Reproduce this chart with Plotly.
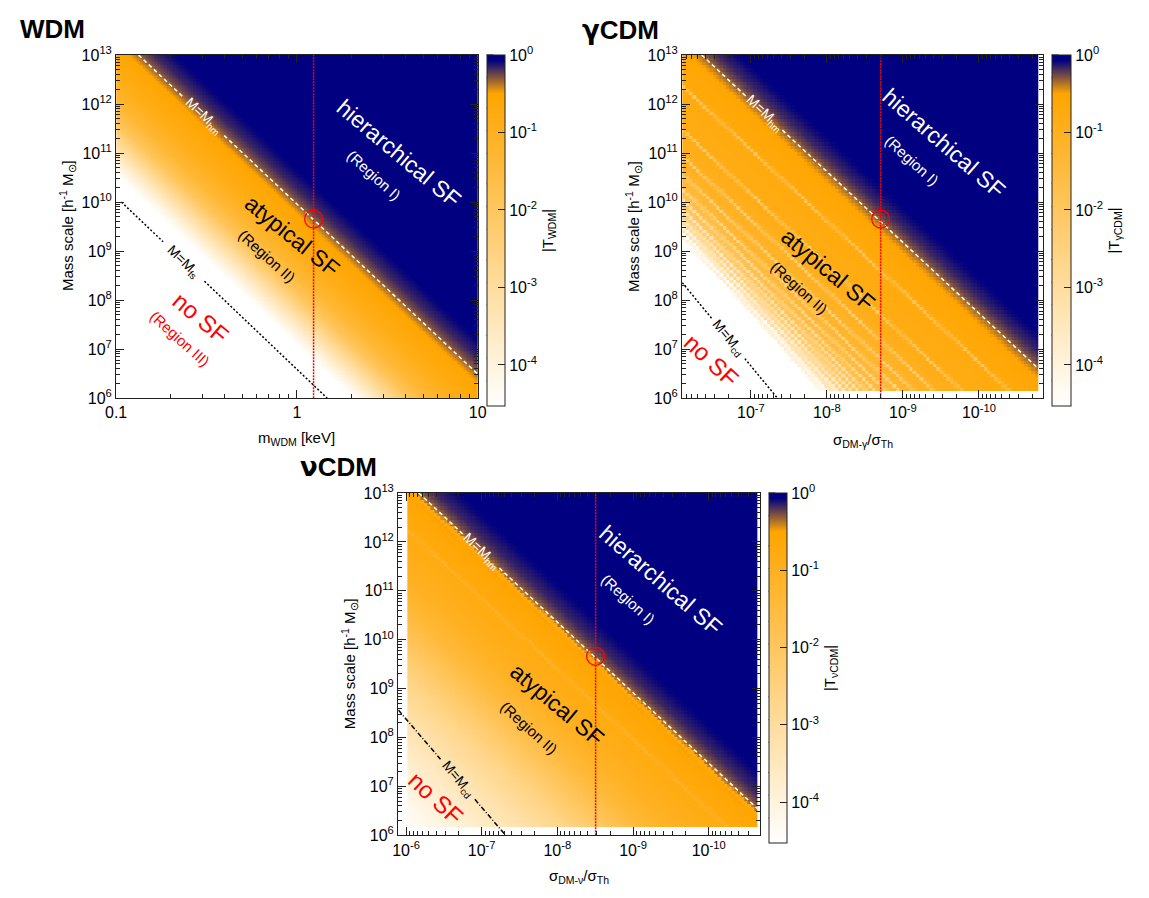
import numpy as np
import plotly.graph_objects as go

W, H = 1149, 898
FONT = "Liberation Sans, Arial, Helvetica, sans-serif"

# ---------------- shared data ----------------
mass_decades = [6, 7, 8, 9, 10, 11, 12, 13]
cbar_decades = [0, -1, -2, -3, -4]
cbar_min_log = -4.53
cbar_minor_mant = [5, 2]

# ---------------- WDM panel ----------------
wdm_x_range = [0.1, 10.0]
wdm_x_ticks = [0.1, 1, 10]
wdm_x_ticktext = ["0.1", "1", "10"]
wdm_hm_x = [0.133, 10.0]
wdm_hm_y = [1e13, 3.1e6]
wdm_hm_gap = [0.234, 0.396]
wdm_fs_x = [0.107, 1.47]
wdm_fs_y = [1e10, 1e6]
wdm_fs_gap = [0.182, 0.308]
wdm_mark_x = 1.236
wdm_mark_y = 4.5e9
wdm_prof_d = [-3.0, -1.3, -0.9, -0.6, -0.3, -0.1, 0.0, 0.2, 0.6, 1.0, 1.4, 1.8, 2.2, 2.6, 3.0]
wdm_prof_logT = [0.0, 0.0, -0.04, -0.09, -0.17, -0.26, -0.33, -0.5, -0.7, -0.95, -1.3, -1.9, -2.9, -3.9, -4.8]

# ---------------- gamma-CDM panel ----------------
g_x_range_log = [-6.095, -10.84]
g_x_ticks = [1e-7, 1e-8, 1e-9, 1e-10]
g_x_ticktext = ["10<sup>-7</sup>", "10<sup>-8</sup>", "10<sup>-9</sup>", "10<sup>-10</sup>"]
g_hm_x = [4.44e-7, 1.53e-11]
g_hm_y = [1e13, 3.6e6]
g_hm_gap = [1.16e-7, 3.85e-8]
g_cd_x = [8.0e-7, 4.47e-8]
g_cd_y = [2.27e8, 1e6]
g_cd_gap = [3.29e-7, 1.2e-7]
g_mark_x = 1.96e-9
g_mark_y = 4.5e9
g_data_x = [1.66e-11, 8.0e-7]
g_data_ymin = 1.41e6
g_cut_offset = 0.65
g_prof_d = [-3.0, -1.3, -0.9, -0.6, -0.3, -0.1, 0.0, 0.3, 1.0, 2.0, 3.0, 4.0, 5.0, 6.0]
g_prof_logT = [0.0, 0.0, -0.04, -0.09, -0.17, -0.26, -0.34, -0.55, -0.7, -0.85, -1.2, -1.8, -2.5, -3.2]
g_stripes_d = [1.0, 1.9, 2.43, 2.81, 3.1, 3.33, 3.54, 3.71, 3.86, 4.0, 4.12, 4.24, 4.34,
               4.44, 4.53, 4.61, 4.69, 4.77, 4.84, 4.9]
g_stripe_depth = 1.3
g_stripe_width = 0.035
g_fade_e = [0.0, 0.3, 0.7, 1.2, 1.8]
g_fade_logT = [-2.8, -1.8, -0.9, -0.3, 0.0]

# ---------------- nu-CDM panel ----------------
n_x_range_log = [-5.896, -10.675]
n_x_ticks = [1e-6, 1e-7, 1e-8, 1e-9, 1e-10]
n_x_ticktext = ["10<sup>-6</sup>", "10<sup>-7</sup>", "10<sup>-8</sup>", "10<sup>-9</sup>", "10<sup>-10</sup>"]
n_hm_x = [6.78e-7, 2.11e-11]
n_hm_y = [1e13, 3.16e6]
n_hm_gap = [1.77e-7, 5.83e-8]
n_cd_x = [1.26e-6, 4.83e-8]
n_cd_y = [3.63e8, 1e6]
n_cd_gap = [3.5e-7, 1.23e-7]
n_mark_x = 3.12e-9
n_mark_y = 4.57e9
n_data_x = [2.24e-11, 9.6e-7]
n_data_ymin = 1.45e6
n_prof_d = [-3.0, -1.4, -1.0, -0.65, -0.3, -0.1, 0.0, 0.3, 1.0, 2.0, 2.6, 3.2, 4.0, 5.0, 6.0, 7.0, 8.0]
n_prof_logT = [0.0, 0.0, -0.04, -0.09, -0.17, -0.26, -0.34, -0.55, -0.75, -1.05, -1.4, -1.9, -2.6, -3.3, -3.9, -4.4, -4.8]
n_stripes_d = [0.12, 0.96]
n_stripe_depth = 0.4
n_stripe_width = 0.04

# ---------------- colours ----------------
colorscale = [[0.0, "#ffffff"], [0.89, "#ffa500"], [0.985, "#000080"], [1.0, "#000080"]]


def loglin(xs, ys):
    lx = np.log10(xs)
    ly = np.log10(ys)
    s = (ly[1] - ly[0]) / (lx[1] - lx[0])
    return lambda l: ly[0] + s * (l - lx[0])


def centers(edges):
    le = np.log10(edges)
    return 0.5 * (le[:-1] + le[1:])


# ---- WDM field
wx = np.logspace(-1, 1, 241)
wy = np.logspace(6, 13, 241)
LX, LY = np.meshgrid(centers(wx), centers(wy))
wdm_hm = loglin(wdm_hm_x, wdm_hm_y)
d = wdm_hm(LX) - LY
z_wdm = np.interp(d, wdm_prof_d, wdm_prof_logT)
z_wdm[z_wdm < cbar_min_log + 0.03] = np.nan

# ---- gamma field
gx = np.logspace(np.log10(g_data_x[0]), np.log10(g_data_x[1]), 106)
gy = np.logspace(np.log10(g_data_ymin), 13, 101)
LX, LY = np.meshgrid(centers(gx), centers(gy))
g_hm = loglin(g_hm_x, g_hm_y)
g_cd = loglin(g_cd_x, g_cd_y)
d = g_hm(LX) - LY
env = np.interp(d, g_prof_d, g_prof_logT)
dips = sum(g_stripe_depth * np.exp(-((d - s) / g_stripe_width) ** 2) for s in g_stripes_d)
e = LY - (g_cd(LX) + g_cut_offset)
z_g = env - dips + np.interp(e, g_fade_e, g_fade_logT)
z_g = np.maximum(z_g, cbar_min_log)
z_g[e < 0] = np.nan

# ---- nu field
nx = np.logspace(np.log10(n_data_x[0]), np.log10(n_data_x[1]), 106)
ny = np.logspace(np.log10(n_data_ymin), 13, 101)
LX, LY = np.meshgrid(centers(nx), centers(ny))
n_hm = loglin(n_hm_x, n_hm_y)
n_cd = loglin(n_cd_x, n_cd_y)
d = n_hm(LX) - LY
env = np.interp(d, n_prof_d, n_prof_logT)
dips = sum(n_stripe_depth * np.exp(-((d - s) / n_stripe_width) ** 2) for s in n_stripes_d)
z_n = np.maximum(env - dips, cbar_min_log)

# ---------------- layout geometry (pixels) ----------------
panels = {
    "wdm": dict(x0=107, x1=475, y0=45, y1=396, cb=(484, 502)),
    "g": dict(x0=683, x1=1050, y0=45, y1=396, cb=(1059, 1078)),
    "n": dict(x0=394, x1=762, y0=493, y1=843, cb=(771, 789)),
}


def px(x):
    return x / W


def py(y):
    return 1 - y / H


fig = go.Figure()


def cbar(p, title):
    return dict(
        x=px(p["cb"][0]), xanchor="left", xpad=0,
        y=py(p["y0"]), yanchor="top", ypad=0,
        len=p["y1"] - p["y0"], lenmode="pixels",
        thickness=p["cb"][1] - p["cb"][0], thicknessmode="pixels",
        outlinewidth=1, outlinecolor="#222",
        ticks="inside", ticklen=7, tickcolor="#222",
        tickvals=cbar_decades,
        ticktext=["10<sup>%d</sup>" % v for v in cbar_decades],
        tickfont=dict(size=16, family=FONT, color="black"),
        title=dict(text=title, side="right", font=dict(size=15, family=FONT, color="black")),
    )


fig.add_trace(go.Heatmap(x=wx, y=wy, z=z_wdm, zmin=cbar_min_log, zmax=0, colorscale=colorscale,
                         colorbar=cbar(panels["wdm"], "|T<sub>WDM</sub>|"), hoverinfo="skip",
                         xaxis="x", yaxis="y"))
fig.add_trace(go.Heatmap(x=gx, y=gy, z=z_g, zmin=cbar_min_log, zmax=0, colorscale=colorscale,
                         colorbar=cbar(panels["g"], "|T<sub>γCDM</sub>|"), hoverinfo="skip",
                         xaxis="x2", yaxis="y2"))
fig.add_trace(go.Heatmap(x=nx, y=ny, z=z_n, zmin=cbar_min_log, zmax=0, colorscale=colorscale,
                         colorbar=cbar(panels["n"], "|T<sub>νCDM</sub>|"), hoverinfo="skip",
                         xaxis="x3", yaxis="y3"))


def seg_line(xs, ys, gap, color, dash, ax, ay):
    f = loglin(xs, ys)
    pieces = [(xs[0], gap[0]), (gap[1], xs[1])]
    for a, b in pieces:
        fig.add_trace(go.Scatter(x=[a, b], y=[10 ** f(np.log10(a)), 10 ** f(np.log10(b))],
                                 mode="lines", line=dict(color=color, width=1.5, dash=dash),
                                 hoverinfo="skip", showlegend=False, xaxis=ax, yaxis=ay))
    gm = 10 ** (0.5 * (np.log10(gap[0]) + np.log10(gap[1])))
    return gm, 10 ** f(np.log10(gm))


def vmark(x, y, ax, ay):
    fig.add_trace(go.Scatter(x=[x, x], y=[1e6, 1e13], mode="lines",
                             line=dict(color="#ff0000", width=1.5, dash="2px,1px"),
                             hoverinfo="skip", showlegend=False, xaxis=ax, yaxis=ay))
    fig.add_trace(go.Scatter(x=[x], y=[y], mode="markers",
                             marker=dict(symbol="circle-open", size=18, color="#ff0000", line=dict(width=1.2)),
                             hoverinfo="skip", showlegend=False, xaxis=ax, yaxis=ay))


ann = []


def txt(x, y, s, size, color, angle, ax, ay):
    ann.append(dict(x=np.log10(x), y=np.log10(y), xref=ax, yref=ay, text=s, showarrow=False,
                    textangle=angle, font=dict(size=size, color=color, family=FONT),
                    xanchor="center", yanchor="middle"))


# WDM lines
lx, ly = seg_line(wdm_hm_x, wdm_hm_y, wdm_hm_gap, "white", "4px,3px", "x", "y")
txt(lx, ly, "M=M<sub>hm</sub>", 14, "white", 43, "x", "y")
lx, ly = seg_line(wdm_fs_x, wdm_fs_y, wdm_fs_gap, "black", "2px,2px", "x", "y")
txt(lx, ly, "M=M<sub>fs</sub>", 14, "black", 44, "x", "y")
vmark(wdm_mark_x, wdm_mark_y, "x", "y")
txt(3.63, 9.8e10, "hierarchical SF", 23, "white", 40, "x", "y")
txt(2.68, 3.5e10, "(Region I)", 15, "white", 42, "x", "y")
txt(0.94, 2.0e9, "atypical SF", 23, "black", 39, "x", "y")
txt(0.687, 7.8e8, "(Region II)", 15, "black", 42, "x", "y")
txt(0.293, 4.5e7, "no SF", 24, "red", 40, "x", "y")
txt(0.225, 1.66e7, "(Region III)", 15, "red", 42, "x", "y")

# gamma lines
lx, ly = seg_line(g_hm_x, g_hm_y, g_hm_gap, "white", "4px,3px", "x2", "y2")
txt(lx, ly, "M=M<sub>hm</sub>", 14, "white", 43, "x2", "y2")
lx, ly = seg_line(g_cd_x, g_cd_y, g_cd_gap, "black", "2px,2px", "x2", "y2")
txt(lx, ly, "M=M<sub>cd</sub>", 14, "black", 50, "x2", "y2")
vmark(g_mark_x, g_mark_y, "x2", "y2")
txt(10 ** -9.535, 1.58e11, "hierarchical SF", 23, "white", 41, "x2", "y2")
txt(10 ** -9.12, 10 ** 10.85, "(Region I)", 15, "white", 42, "x2", "y2")
txt(10 ** -8.02, 10 ** 8.61, "atypical SF", 23, "black", 40, "x2", "y2")
txt(10 ** -7.63, 10 ** 8.25, "(Region II)", 15, "black", 42, "x2", "y2")
txt(10 ** -6.48, 10 ** 6.76, "no SF", 24, "red", 43, "x2", "y2")

# nu lines
lx, ly = seg_line(n_hm_x, n_hm_y, n_hm_gap, "white", "4px,3px", "x3", "y3")
txt(lx, ly, "M=M<sub>hm</sub>", 14, "white", 43, "x3", "y3")
lx, ly = seg_line(n_cd_x, n_cd_y, n_cd_gap, "black", "5px,2px,1px,2px", "x3", "y3")
txt(lx, ly, "M=M<sub>cd</sub>", 14, "black", 50, "x3", "y3")
vmark(n_mark_x, n_mark_y, "x3", "y3")
txt(10 ** -9.36, 10 ** 11.22, "hierarchical SF", 23, "white", 41, "x3", "y3")
txt(10 ** -8.94, 10 ** 10.82, "(Region I)", 15, "white", 42, "x3", "y3")
txt(10 ** -8.0, 10 ** 8.66, "atypical SF", 23, "black", 40, "x3", "y3")
txt(10 ** -7.62, 10 ** 8.2, "(Region II)", 15, "black", 42, "x3", "y3")
txt(10 ** -6.40, 10 ** 6.76, "no SF", 24, "red", 43, "x3", "y3")


# titles and axis labels (paper coords)
def ptxt(x, y, s, size, angle=0, bold=False):
    ann.append(dict(x=px(x), y=py(y), xref="paper", yref="paper", text=("<b>%s</b>" % s) if bold else s,
                    showarrow=False, textangle=angle, font=dict(size=size, color="black", family=FONT),
                    xanchor="center", yanchor="middle"))


GR = '<span style="font-family:DejaVu Sans">%s</span>'
ptxt(42, 18, "WDM", 26, bold=True)
ptxt(620, 19, GR % "γ" + "CDM", 26, bold=True)
ptxt(333, 466, GR % "ν" + "CDM", 26, bold=True)
ylab = "Mass scale [h<sup>-1</sup> M<sub>⊙</sub>]"
ptxt(57, 220, ylab, 15, angle=-90)
ptxt(633, 220, ylab, 15, angle=-90)
ptxt(344, 668, ylab, 15, angle=-90)
ptxt(291, 437, "m<sub>WDM</sub> [keV]", 15)
ptxt(867, 439, "σ<sub>DM-γ</sub>/σ<sub>Th</sub>", 15)
ptxt(578, 885, "σ<sub>DM-ν</sub>/σ<sub>Th</sub>", 15)

# colorbar extra tick marks (left-side majors, both-side minors)
shapes = []
for key in panels:
    p = panels[key]
    L, R = p["cb"]
    span = p["y1"] - p["y0"]

    def ypix(v, p=p, span=span):
        return p["y0"] + (0 - v) / (0 - cbar_min_log) * span

    for v in cbar_decades:
        yy = ypix(v)
        shapes.append(dict(type="line", xref="paper", yref="paper", x0=px(L), x1=px(L + 7),
                           y0=py(yy), y1=py(yy), line=dict(color="#222", width=1)))
    for dec in [-1, -2, -3, -4, -5]:
        for m in cbar_minor_mant:
            v = np.log10(m) + dec
            if v < cbar_min_log or v > 0:
                continue
            yy = ypix(v)
            for a, b in [(L, L + 4), (R - 4, R)]:
                shapes.append(dict(type="line", xref="paper", yref="paper", x0=px(a), x1=px(b),
                                   y0=py(yy), y1=py(yy), line=dict(color="#222", width=1)))

mass_minor = [k * 10.0 ** e for e in range(6, 13) for k in range(2, 10)]
wdm_minor = [k * 10.0 ** e for e in range(-1, 1) for k in range(2, 10)]
sig_minor = [k * 10.0 ** e for e in range(-11, -5) for k in range(2, 10)]


def axstyle(p, horizontal, rng, tv, tt, minor_vals, anchor):
    if horizontal:
        dom = [px(p["x0"]), px(p["x1"])]
    else:
        dom = [py(p["y1"]), py(p["y0"])]
    return dict(type="log", domain=dom, range=rng, anchor=anchor, showgrid=False, zeroline=False,
                showline=True, linecolor="#222", linewidth=1.2, mirror="allticks",
                ticks="inside", ticklen=8, tickwidth=1, tickcolor="#222",
                tickmode="array", tickvals=tv, ticktext=tt,
                tickfont=dict(size=16, color="black", family=FONT),
                minor=dict(ticks="inside", ticklen=4, tickwidth=1, tickcolor="#222",
                           tickmode="array", tickvals=minor_vals, showgrid=False))


mt = [10.0 ** e for e in mass_decades]
mtt = ["10<sup>%d</sup>" % e for e in mass_decades]

fig.update_layout(
    width=W, height=H, margin=dict(l=0, r=0, t=0, b=0),
    paper_bgcolor="white", plot_bgcolor="white", showlegend=False,
    xaxis=axstyle(panels["wdm"], True, [-1, 1], wdm_x_ticks, wdm_x_ticktext, wdm_minor, "y"),
    yaxis=axstyle(panels["wdm"], False, [6, 13], mt, mtt, mass_minor, "x"),
    xaxis2=axstyle(panels["g"], True, g_x_range_log, g_x_ticks, g_x_ticktext, sig_minor, "y2"),
    yaxis2=axstyle(panels["g"], False, [6, 13], mt, mtt, mass_minor, "x2"),
    xaxis3=axstyle(panels["n"], True, n_x_range_log, n_x_ticks, n_x_ticktext, sig_minor, "y3"),
    yaxis3=axstyle(panels["n"], False, [6, 13], mt, mtt, mass_minor, "x3"),
    annotations=ann, shapes=shapes,
)

fig.write_html("out.html")
